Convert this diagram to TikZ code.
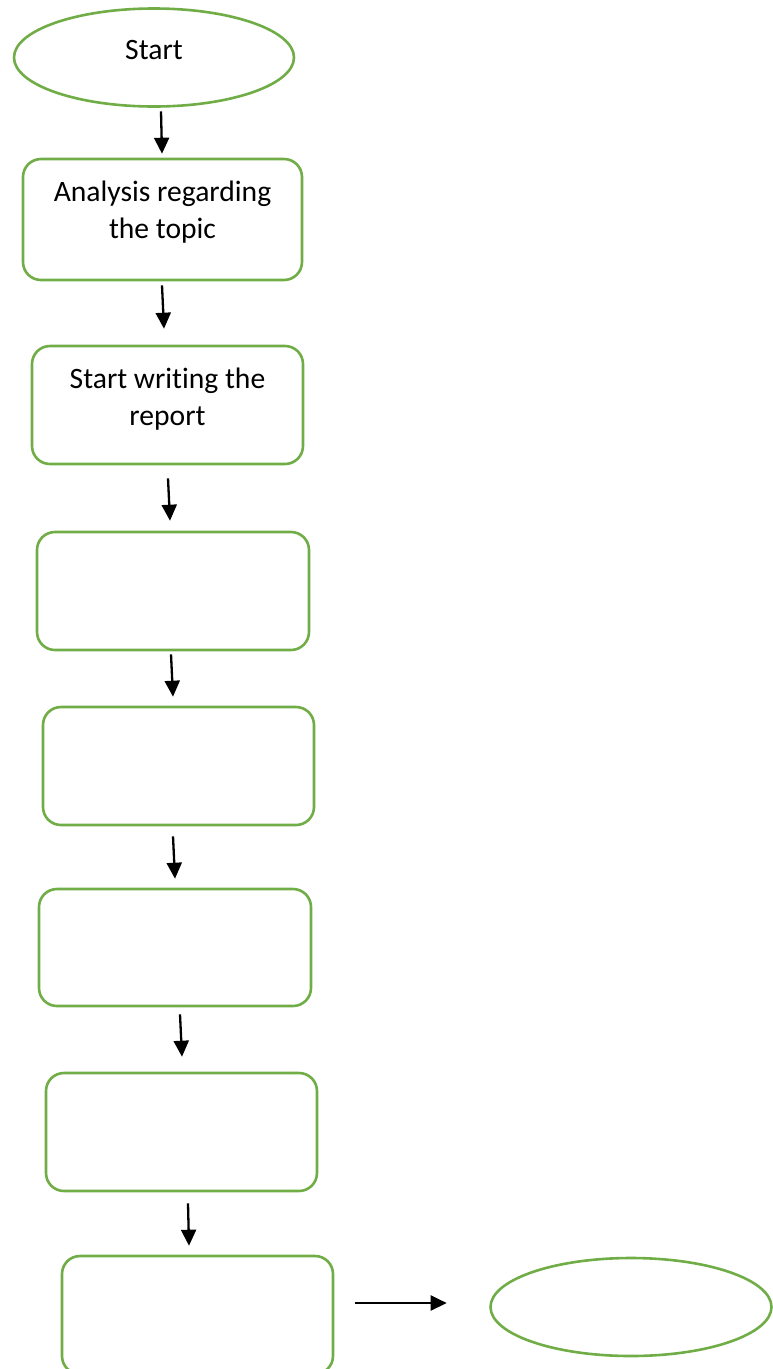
\documentclass[tikz,border=0pt]{standalone}
\usepackage{fontspec}
\setmainfont{Carlito}[Ligatures={NoCommon,NoRequired}]
\usetikzlibrary{shapes.geometric,arrows.meta}
\definecolor{flowgreen}{HTML}{70AD47}
\tikzset{
  stepbox/.style={draw=flowgreen, line width=2.6pt, rounded corners=18pt, inner sep=0pt},
  term/.style={draw=flowgreen, line width=2.6pt, ellipse, inner sep=0pt},
  lbl/.style={inner sep=0pt, align=center, font=\fontsize{29.6}{37}\selectfont},
  arr/.style={line width=2.3pt, -{Triangle[width=15pt,length=16pt]}}
}
\begin{document}
\begin{tikzpicture}[x=1pt,y=-1pt]
\useasboundingbox (0,0) rectangle (773,1369);
\node[term, minimum width=280pt, minimum height=98pt] (start) at (154,57.5) {};
\node[lbl] (startlbl) at (154,50) {Start};
\node[stepbox, minimum width=279pt, minimum height=121pt] (b1) at (162.5,219.5) {};
\node[lbl] (b1lbl) at (162.5,212) {Analysis regarding\\the topic};
\node[stepbox, minimum width=271pt, minimum height=118pt] (b2) at (167.5,405) {};
\node[lbl] (b2lbl) at (167.5,399) {Start writing the\\report};
\node[stepbox, minimum width=272pt, minimum height=118pt] (b3) at (173,591) {};
\node[stepbox, minimum width=271pt, minimum height=118pt] (b4) at (178.5,766) {};
\node[stepbox, minimum width=272pt, minimum height=117pt] (b5) at (175,947.5) {};
\node[stepbox, minimum width=271pt, minimum height=118pt] (b6) at (181.5,1132) {};
\node[stepbox, minimum width=271pt, minimum height=118pt] (b7) at (197.5,1315) {};
\node[term, minimum width=281pt, minimum height=98pt] (end) at (631,1307) {};
\draw[arr] ([xshift=7pt,yshift=-3.5pt]start.south) -- ([xshift=-0.5pt,yshift=4pt]b1.north);
\draw[arr] ([xshift=-0.5pt,yshift=-4pt]b1.south) -- ([xshift=-3.5pt,yshift=16pt]b2.north);
\draw[arr] ([xshift=0.5pt,yshift=-13pt]b2.south) -- ([xshift=-3pt,yshift=10pt]b3.north);
\draw[arr] ([xshift=-2pt,yshift=-3pt]b3.south) -- ([xshift=-5.5pt,yshift=9pt]b4.north);
\draw[arr] ([xshift=-5.5pt,yshift=-10pt]b4.south) -- ([xshift=0pt,yshift=9pt]b5.north);
\draw[arr] ([xshift=5pt,yshift=-7pt]b5.south) -- ([xshift=0.5pt,yshift=15pt]b6.north);
\draw[arr] ([xshift=6.5pt,yshift=-11pt]b6.south) -- ([xshift=-8.5pt,yshift=9pt]b7.north);
\draw[arr] ([xshift=21pt,yshift=12pt]b7.east) -- ([xshift=-42.5pt,yshift=4pt]end.west);
\end{tikzpicture}
\end{document}
